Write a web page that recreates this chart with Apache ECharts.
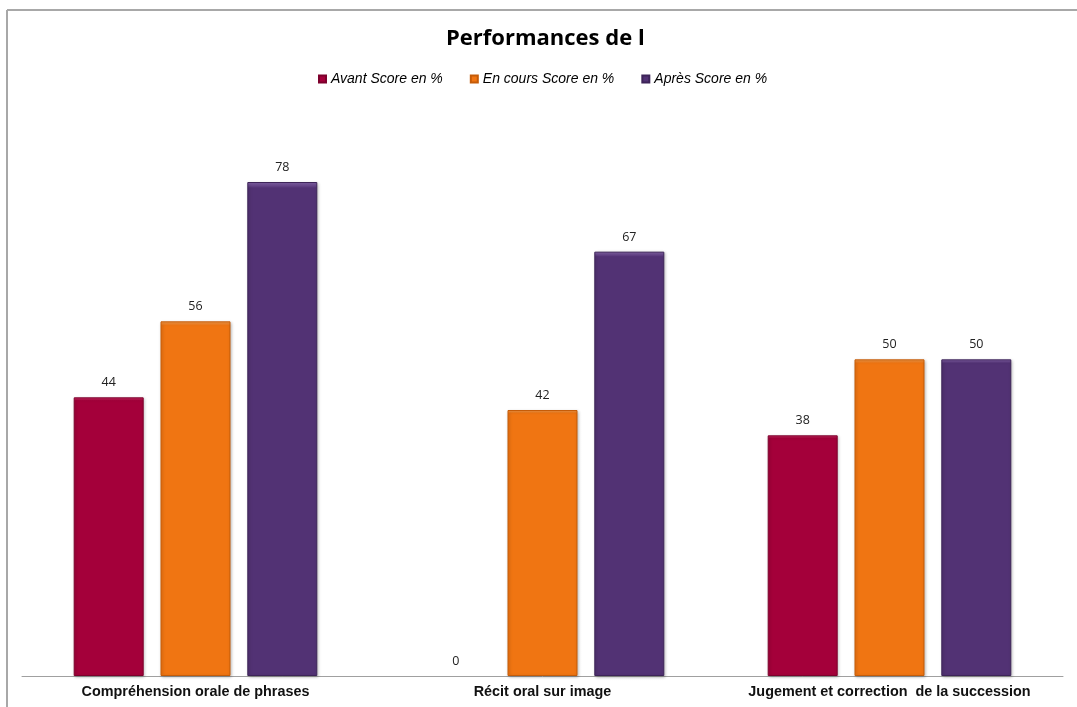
<!DOCTYPE html>
<html>
<head>
<meta charset="utf-8">
<script src="https://cdn.jsdelivr.net/npm/echarts@6/dist/echarts.min.js"></script>
<style>
html,body{margin:0;padding:0;background:#fff;}
#c{width:1077px;height:707px;}
</style>
</head>
<body>
<div id="c"></div>
<script>
const titleText = 'Performances de l';
const categories = ['Compréhension orale de phrases', 'Récit oral sur image', 'Jugement et correction  de la succession'];
const seriesNames = ['Avant Score en %', 'En cours Score en %', 'Après Score en %'];
const avant = [44, 0, 38];
const enCours = [56, 42, 50];
const apres = [78, 67, 50];
const barColors = ['#A4003A', '#F07512', '#523274'];
const edgeColors = ['#7d002c', '#c55c08', '#3d2458'];
const topColors = ['#d4306a', '#f9a050', '#8a68b0'];

const chart = echarts.init(document.getElementById('c'));
function mk(i, data) {
  return {
    name: seriesNames[i],
    type: 'bar',
    data: data.map(v => v === 0 ? {value: v, itemStyle: {borderWidth: 0, opacity: 0}} : v),
    barWidth: 70,
    barGap: '24%',
    itemStyle: {
      color: new echarts.graphic.LinearGradient(0, 0, 0, 1, [
        {offset: 0, color: topColors[i]},
        {offset: 0.012, color: barColors[i]},
        {offset: 1, color: barColors[i]}
      ]),
      borderColor: edgeColors[i],
      borderWidth: 1,
      shadowColor: 'rgba(0,0,0,0.25)',
      shadowBlur: 3,
      shadowOffsetX: 1,
      shadowOffsetY: 1
    },
    label: {
      show: true,
      position: 'top',
      distance: 8,
      color: '#222',
      fontSize: 12.5,
      fontFamily: 'Open Sans',
      opacity: 1
    }
  };
}
chart.setOption({
  animation: false,
  backgroundColor: '#fff',
  title: {
    text: titleText,
    left: 441,
    top: 23,
    textStyle: {fontFamily: 'Open Sans', fontWeight: 'bold', fontSize: 22, color: '#000'}
  },
  legend: {
    top: 67,
    left: 313,
    itemWidth: 7,
    itemHeight: 7,
    itemGap: 27,
    icon: 'rect',
    textStyle: {fontFamily: 'Liberation Sans', fontStyle: 'italic', fontSize: 14, color: '#000', padding: [0,0,0,0]},
    data: seriesNames.map((n, i) => ({name: n, itemStyle: {color: barColors[i]}}))
  },
  grid: {left: 22, right: 14, top: 106, bottom: 31, containLabel: false},
  xAxis: {
    type: 'category',
    data: categories,
    axisLine: {lineStyle: {color: '#a0a0a0', width: 1}},
    axisTick: {show: false},
    axisLabel: {interval: 0, fontFamily: 'Liberation Sans', fontWeight: 'bold', fontSize: 14.4, color: '#111', margin: 9}
  },
  yAxis: {
    type: 'value',
    min: 0,
    max: 90,
    interval: 10,
    show: false,
    splitLine: {show: false}
  },
  graphic: [
    {type: 'line', shape: {x1: 7, y1: 10, x2: 1077, y2: 10}, style: {stroke: '#a8a8a8', lineWidth: 2}, silent: true},
    {type: 'line', shape: {x1: 7, y1: 10, x2: 7, y2: 707}, style: {stroke: '#a8a8a8', lineWidth: 2}, silent: true}
  ],
  series: [mk(0, avant), mk(1, enCours), mk(2, apres)]
});
</script>
</body>
</html>
